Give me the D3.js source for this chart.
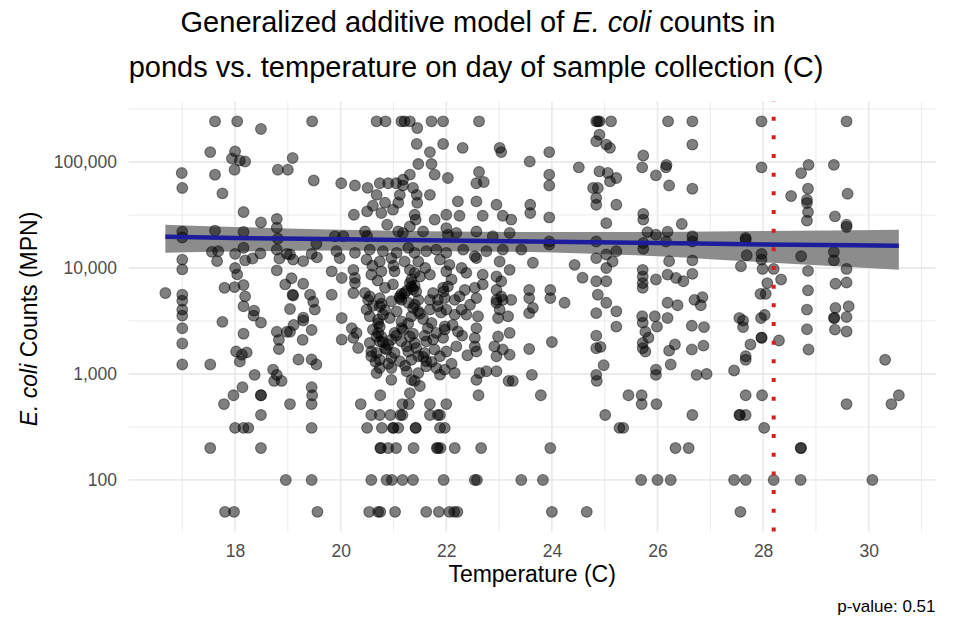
<!DOCTYPE html>
<html>
<head>
<meta charset="utf-8">
<script src="https://cdn.jsdelivr.net/npm/d3@7"></script>
<style>
  body { margin: 0; background: #fff; }
  svg text { font-family: "Liberation Sans", Arial, sans-serif; }
</style>
</head>
<body>
<svg id="chart" width="957" height="620"></svg>
<script>
// samples: [temperature (C), E. coli MPN]
const samples = [
  // 17-20 C, upper half
  [17.62,241960],[18.04,241960],[19.46,241960],[20.68,241960],[20.85,241960],[18.49,205000],
  [17.53,124000],[18.00,126000],[17.94,108000],[18.09,103000],[18.19,101000],[19.09,109000],
  [16.99,78700],[17.00,56900],[17.62,75900],[17.99,84600],[18.81,84600],[19.00,84600],
  [17.76,50600],[19.49,67000],[20.01,63000],[20.27,60000],[20.51,57000],[18.16,33700],
  [18.49,26900],[18.79,29000],[18.79,24000],[17.00,22000],[17.00,19400],[17.62,22500],
  [18.16,21900],[18.81,18900],[19.54,16900],[17.56,14200],[17.68,14400],[17.66,11600],
  [18.00,13600],[18.16,15500],[18.19,11800],[18.33,12300],[18.48,13700],[18.79,14900],
  [18.84,12300],[18.98,13600],[19.04,13400],[19.10,12000],[19.29,11600],[19.45,13600],
  [19.55,12600],[17.00,12000],[17.00,9700],[18.00,10000],[18.04,8700],[18.79,9500],
  [19.07,8000],[19.29,7100],[18.95,7000],[19.10,5500],[16.68,5800],[17.00,5600],
  [17.00,4900],[17.00,4050],[17.80,6500],[17.99,6600],[18.16,6900],[18.19,5400],
  [18.16,4350],[18.36,3960],[19.09,5600],[19.42,5600],[19.48,4800],[19.51,4050],
  // 17-20 C, lower half
  [17.00,3550],[17.00,2700],[17.00,1940],[17.00,1230],[17.76,3100],[17.53,1230],
  [18.35,3550],[18.49,3050],[18.16,2400],[18.02,1630],[18.13,1520],[18.22,1600],
  [18.09,1310],[18.79,2500],[18.83,2100],[18.83,1720],[18.98,2500],[19.04,2500],
  [19.11,2900],[19.29,3400],[19.28,2100],[19.45,2600],[19.04,4100],[19.29,3200],
  [19.20,1370],[19.45,1370],[19.54,1230],[18.72,1100],[18.79,980],[18.74,860],
  [18.88,860],[18.37,980],[18.14,750],[17.97,630],[17.79,520],[18.49,630],
  [18.49,630],[18.49,410],[19.04,520],[19.45,750],[19.46,630],[19.45,520],
  [18.00,310],[18.16,310],[18.25,310],[17.53,200],[18.49,200],[19.45,310],
  [18.96,100],[19.45,100],[17.81,50],[17.98,50],[19.56,50],[20.38,520],
  // 20-25 C, low counts
  [20.75,630],[21.17,520],[21.29,520],[21.69,520],[22.00,520],[20.58,410],
  [20.74,410],[20.94,410],[21.13,410],[21.17,410],[21.69,410],[21.84,410],
  [21.88,410],[20.50,310],[20.78,310],[20.99,310],[21.09,310],[21.42,310],
  [21.88,310],[21.97,310],[21.00,310],[21.42,310],[20.75,200],[20.76,200],
  [20.90,200],[21.05,200],[21.38,200],[21.82,200],[21.84,200],[21.89,200],
  [22.16,200],[22.66,200],[23.97,200],[20.58,100],[20.87,100],[20.97,100],
  [21.17,100],[21.37,100],[21.95,100],[22.54,100],[22.58,100],[23.42,100],
  [23.83,100],[20.54,50],[20.71,50],[20.75,50],[21.03,50],[21.62,50],
  [21.86,50],[22.06,50],[22.15,50],[22.21,50],[24.00,50],[24.66,50],
  [22.61,630],[23.18,860],[23.26,860],[23.62,980],[23.79,630],[24.84,980],
  [24.85,860],[24.98,1210],[25.01,410],[25.28,310],[24.00,2000],[23.57,1720],
  [23.57,3750],[23.64,4200],[24.24,4700],[24.84,3750],[24.84,2300],[24.84,1750],
  [24.92,1800],[25.22,3900],[25.22,2800],
  // 20-23.5 C, dense cluster
  [20.61,38700],[20.84,41300],[21.09,41300],[21.45,41300],[22.22,42500],[22.57,42500],[22.95,39500],
  [20.25,31800],[20.50,34200],[20.77,33000],[20.99,35500],[21.40,31800],[21.42,28600],
  [21.78,28600],[22.00,31800],[22.25,31100],[22.69,31100],[23.07,31100],[23.23,28600],
  [19.89,19900],[20.05,19900],[20.46,22100],[20.50,19900],[20.88,25600],[21.09,22100],
  [21.18,21400],[21.31,24700],[21.56,22100],[22.00,23800],[22.03,20600],[22.19,21400],
  [22.57,22100],[22.88,19900],[23.20,21400],
  [19.92,14400],[20.27,13900],[20.55,14900],[20.80,14400],[21.06,13900],[21.28,15500],
  [21.40,13900],[21.62,14400],[21.81,14900],[22.00,13900],[22.32,14900],[22.54,12900],
  [22.76,14400],[23.07,14900],[23.42,14900],
  [19.98,12400],[20.49,12000],[20.74,11500],[20.96,12400],[21.21,11500],[21.47,11500],
  [21.88,12000],[22.06,10700],[22.29,10000],[22.57,12400],[23.01,11500],[23.20,9600],
  [19.83,9300],[20.24,9600],[20.27,8050],[20.58,8650],[20.77,9300],[21.02,9300],
  [21.31,9600],[21.34,7800],[21.50,8300],[21.69,8650],[22.00,9300],[22.38,9000],
  [22.69,8650],[22.95,8300],[23.04,7500],
  [20.02,8050],[20.27,7200],[20.46,5800],[20.55,5400],[20.84,6500],[21.12,5200],
  [21.21,5800],[21.34,6700],[21.43,6000],[21.75,5800],[21.94,6500],[22.03,6700],
  [22.25,5400],[22.54,6500],[22.69,7000],[22.95,6200],[23.04,5400],
  [19.83,5600],[20.24,5800],[20.52,5000],[20.74,5200],[20.96,4850],[21.15,5000],
  [21.28,4700],[21.47,5000],[21.69,5000],[21.84,5000],[21.97,5200],[22.16,5000],
  [22.29,4050],[22.57,5200],[22.95,5000],[23.07,5000],[23.23,5000],
  [20.49,4050],[20.74,4350],[20.80,3630],[21.06,3900],[21.37,4200],[21.47,3900],
  [21.69,4050],[21.84,4350],[22.00,4050],[22.38,3630],[22.60,3500],[22.95,4700],[23.01,4050],
  [20.02,3370],[20.55,3500],[20.71,3250],[20.93,3370],[21.15,3130],[21.34,3500],
  [21.72,3030],[21.97,2810],[22.16,3630],[22.57,2710],[22.98,3370],[23.17,3500],
  [20.21,2710],[20.30,2440],[20.61,2620],[20.71,2440],[20.77,2260],[21.02,2440],
  [21.15,2710],[21.31,2260],[21.65,2710],[21.81,2440],[21.97,2620],
  [20.02,2110],[20.24,2190],[20.55,1960],[20.74,2030],[20.96,2110],[21.15,2030],
  [21.25,1820],[21.40,1960],[21.62,2030],[21.75,2110],[21.94,2190],[22.22,2520],
  [22.54,2190],[22.98,2260],[23.20,2440],
  [20.33,1760],[20.58,1630],[20.68,1580],[20.87,1700],[21.02,1580],[21.28,1630],
  [21.43,1760],[21.59,1580],[21.78,1700],[22.00,1630],[22.19,1820],[22.54,1820],
  [22.91,1820],[23.07,1700],
  [20.58,1470],[20.74,1360],[20.96,1420],[21.12,1320],[21.34,1360],[21.47,1470],
  [21.62,1320],[21.88,1470],[22.57,1630],[22.95,1470],[23.20,1520],
  [20.74,1140],[20.68,1020],[20.96,1140],[21.25,1060],[21.34,880],[21.47,1020],
  [21.62,1180],[21.81,1140],[21.88,985],[22.16,1020],[22.63,1020],[22.76,1060],
  [22.95,1060],[22.57,880],[20.96,880],[21.40,860],[21.50,770],[21.31,660],
  // dense cluster, overlapping points
  [21.12,5400],[21.15,5700],[21.37,6300],[21.40,6800],[21.31,7200],[21.25,6100],
  [20.74,2800],[20.71,3000],[20.68,2250],[20.80,2000],[20.84,1750],[20.90,1900],
  [20.77,4600],[20.84,4000],[20.61,4400],[21.40,4500],[21.50,3700],[21.56,3300],
  [21.28,3000],[21.18,2600],[21.05,2300],[21.37,2400],[21.59,2300],[20.66,1300],
  [20.90,1250],[21.22,1200],[21.56,1450],[21.72,1300],[21.97,1100],[22.10,1250],
  [20.99,7000],[20.70,7600],[20.60,10500],[21.00,10500],[21.40,9000],[21.60,10000],
  [21.95,6000],[22.10,7800],[22.35,6200],[22.45,4500],[21.90,3800],[22.12,2900],
  [22.30,2300],[22.40,1500],
  // 21-25.5 C, upper half
  [21.15,241960],[21.21,241960],[21.31,241960],[21.72,241960],[21.94,241960],[22.62,241960],
  [24.84,241960],[24.87,241960],[24.90,241960],[25.12,241960],[21.45,209000],[21.44,148000],
  [21.94,148000],[22.31,136000],[21.69,124000],[23.01,136000],[23.04,124000],[23.95,124000],
  [23.58,101000],[24.51,89000],[23.95,76000],[23.95,60000],[21.47,95700],[21.72,95700],
  [21.78,76000],[22.03,70600],[21.31,76000],[21.18,68000],[21.05,63000],[20.74,63000],
  [20.90,63000],[21.18,60000],[21.37,57000],[21.12,49000],[21.44,49000],[21.69,49000],
  [20.68,49000],[22.62,80500],[22.57,63000],[22.71,64700],[23.59,39500],[23.59,33000],
  [23.95,30000],[24.84,45800],[24.87,56900],[24.78,56900],[24.90,81500],[25.06,78800],
  [25.10,65600],[25.22,70600],[24.84,157000],[24.90,181000],[25.03,146000],[25.10,136000],
  [24.84,39500],[25.03,26500],[25.22,39500],[24.84,17800],[25.03,13400],[25.15,11500],
  [24.43,10700],[24.58,8100],[23.64,11200],[23.95,16600],[23.95,17800],[23.57,6200],
  [23.57,5200],[23.97,6200],[23.97,5200],[24.84,7500],[25.03,7500],[24.87,5600],
  [25.03,4700],[24.84,12400],[25.03,10000],[25.22,14400],
  // 25.5-30.6 C, upper half
  [26.20,241960],[26.66,241960],[27.97,241960],[29.58,241960],[26.66,146000],[25.73,115000],
  [25.71,89000],[26.17,94000],[26.16,89000],[25.97,74800],[26.22,60000],[26.66,56000],
  [27.97,89000],[28.86,94000],[28.72,78600],[29.34,94000],[28.85,56000],[28.53,47700],
  [28.83,44000],[28.83,41000],[28.85,33700],[28.83,28000],[29.60,50200],[29.36,30700],
  [29.58,25600],[29.58,24400],[25.73,32400],[25.73,28600],[26.46,26000],[26.19,22000],
  [25.81,21800],[25.97,20600],[26.66,19900],[26.66,17800],[27.67,19200],[27.67,18500],
  [25.73,17200],[25.73,15200],[26.16,17800],[26.22,11600],[26.66,11800],[27.69,13200],
  [27.97,13600],[27.97,12000],[28.72,12900],[29.34,14200],[29.34,11800],[27.58,10400],
  [27.99,9800],[28.20,9800],[28.34,7800],[28.85,9400],[29.58,9800],[27.95,5700],
  [28.05,5700],[28.08,7200],[28.85,6150],[29.37,7100],[29.58,7300],[25.72,9600],
  [25.72,8300],[25.72,7200],[25.72,6500],[25.97,7800],[26.19,8650],[26.35,8050],
  [26.49,7500],[26.66,8800],[26.19,4700],[26.38,4450],[26.70,5000],[26.85,5300],
  [26.82,4450],[28.83,4050],[29.37,4200],[29.62,4350],
  // 25.5-30.6 C, lower half
  [25.71,3500],[25.72,3050],[25.95,3500],[25.99,2800],[25.77,2500],[25.83,2200],
  [25.72,1960],[25.72,1750],[25.77,1630],[26.19,3370],[26.22,1660],[26.33,1900],
  [26.25,1230],[25.97,1100],[25.97,980],[26.65,2850],[26.88,2770],[26.65,1700],
  [26.87,1850],[26.74,980],[26.93,1000],[25.35,310],[25.45,630],[25.70,630],
  [25.70,520],[25.98,520],[26.66,410],[26.34,200],[26.59,200],[25.69,100],
  [26.00,100],[26.25,100],[27.55,3370],[27.62,3200],[27.62,2770],[27.96,3370],
  [28.03,3600],[27.97,2200],[27.97,2200],[27.76,1900],[28.30,2070],[27.67,1470],
  [27.67,1360],[27.45,1080],[27.67,630],[27.98,630],[27.55,410],[27.56,410],
  [27.67,410],[28.02,310],[28.71,200],[28.72,200],[27.45,100],[27.67,100],
  [28.20,100],[28.71,100],[30.07,100],[27.57,50],[28.83,2640],[28.86,1700],
  [29.34,3370],[29.35,3370],[29.36,2620],[29.58,3450],[29.58,2520],[29.58,520],
  [30.31,1360],[30.57,630],[30.43,520]
];

// GAM fit with confidence band
const fitTemp  = [16.68, 18, 20, 22, 24, 26, 28, 30.57];
const fitMean  = [19700, 19200, 18700, 18200, 17700, 17200, 16700, 16200];
const fitUpper = [25600, 24400, 23000, 22100, 21800, 21900, 22300, 22900];
const fitLower = [13900, 14300, 14600, 14400, 14000, 12900, 11300, 9600];

const markerTemp = 28.2;

const xTicks = [18, 20, 22, 24, 26, 28, 30];
const xMinor = [17, 19, 21, 23, 25, 27, 29, 31];
const yTicks = [100, 1000, 10000, 100000];
const yMinor = [316.2, 3162, 31623, 316228];

const width = 957, height = 620;
const panel = {left: 128.7, right: 935.5, top: 101.8, bottom: 531.4};

const svg = d3.select("#chart");

const tExt = d3.extent(samples, d => d[0]);
const cExt = d3.extent(samples, d => Math.log10(d[1]));
const tPad = (tExt[1] - tExt[0]) * 0.05;
const cPad = (cExt[1] - cExt[0]) * 0.05;

const x = d3.scaleLinear()
    .domain([tExt[0] - tPad, tExt[1] + tPad])
    .range([panel.left, panel.right]);

const y = d3.scaleLog()
    .domain([Math.pow(10, cExt[0] - cPad), Math.pow(10, cExt[1] + cPad)])
    .range([panel.bottom, panel.top]);

/* grid */
const grid = svg.append("g").attr("stroke", "#ebebeb").attr("fill", "none");

grid.selectAll("line.xminor").data(xMinor.filter(d => d < x.domain()[1])).enter()
    .append("line").attr("class", "xminor")
    .attr("x1", d => x(d)).attr("x2", d => x(d))
    .attr("y1", panel.top).attr("y2", panel.bottom)
    .attr("stroke-width", 1);

grid.selectAll("line.xmajor").data(xTicks).enter()
    .append("line").attr("class", "xmajor")
    .attr("x1", d => x(d)).attr("x2", d => x(d))
    .attr("y1", panel.top).attr("y2", panel.bottom)
    .attr("stroke-width", 1.8);

grid.selectAll("line.yminor").data(yMinor.filter(d => d < y.domain()[1])).enter()
    .append("line").attr("class", "yminor")
    .attr("y1", d => y(d)).attr("y2", d => y(d))
    .attr("x1", panel.left).attr("x2", panel.right)
    .attr("stroke-width", 1);

grid.selectAll("line.ymajor").data(yTicks).enter()
    .append("line").attr("class", "ymajor")
    .attr("y1", d => y(d)).attr("y2", d => y(d))
    .attr("x1", panel.left).attr("x2", panel.right)
    .attr("stroke-width", 1.8);

/* confidence band */
const idx = d3.range(fitTemp.length);
const band = d3.area()
    .x(i => x(fitTemp[i]))
    .y0(i => y(fitLower[i]))
    .y1(i => y(fitUpper[i]))
    .curve(d3.curveMonotoneX);

svg.append("path")
    .attr("d", band(idx))
    .attr("fill", "#8c8c8c");

/* points */
svg.append("g")
  .selectAll("circle")
  .data(samples)
  .enter()
  .append("circle")
    .attr("cx", d => x(d[0]))
    .attr("cy", d => y(d[1]))
    .attr("r", 5.4)
    .attr("fill", "#000")
    .attr("fill-opacity", 0.5)
    .attr("stroke", "#000")
    .attr("stroke-opacity", 0.45)
    .attr("stroke-width", 1.1);

/* fitted line */
const fitLine = d3.line()
    .x(i => x(fitTemp[i]))
    .y(i => y(fitMean[i]))
    .curve(d3.curveMonotoneX);

svg.append("path")
    .attr("d", fitLine(idx))
    .attr("fill", "none")
    .attr("stroke", "#1c1c9c")
    .attr("stroke-width", 4.5);

/* dotted vertical marker, drawn bottom to top like ggplot */
svg.append("line")
    .attr("x1", x(markerTemp)).attr("x2", x(markerTemp))
    .attr("y1", panel.bottom).attr("y2", panel.top)
    .attr("stroke", "#dd1c1c")
    .attr("stroke-width", 4)
    .attr("stroke-dasharray", "4 14.67");

/* axes */
const xAxis = d3.axisBottom(x)
    .tickValues(xTicks)
    .tickSize(0)
    .tickPadding(13)
    .tickFormat(d3.format("d"));

svg.append("g")
    .attr("transform", "translate(0," + panel.bottom + ")")
    .call(xAxis)
    .call(g => g.select(".domain").remove())
    .attr("font-size", null).attr("font-family", null)
    .selectAll("text")
    .attr("font-size", 17.5)
    .attr("fill", "#4d4d4d");

const yAxis = d3.axisLeft(y)
    .tickValues(yTicks)
    .tickSize(0)
    .tickPadding(11.7)
    .tickFormat(d3.format(","));

svg.append("g")
    .attr("transform", "translate(" + panel.left + ",0)")
    .call(yAxis)
    .call(g => g.select(".domain").remove())
    .attr("font-size", null).attr("font-family", null)
    .selectAll("text")
    .attr("font-size", 17.5)
    .attr("fill", "#4d4d4d");

/* titles */
const title = svg.append("text")
    .attr("text-anchor", "middle")
    .attr("font-size", 29)
    .attr("fill", "#000");

const t1 = title.append("tspan").attr("x", 478).attr("y", 32);
t1.append("tspan").text("Generalized additive model of ");
t1.append("tspan").attr("font-style", "italic").text("E. coli");
t1.append("tspan").text(" counts in");

title.append("tspan").attr("x", 476).attr("y", 77)
    .text("ponds vs. temperature on day of sample collection (C)");

svg.append("text")
    .attr("x", (panel.left + panel.right) / 2)
    .attr("y", 582)
    .attr("text-anchor", "middle")
    .attr("font-size", 23)
    .text("Temperature (C)");

const yTitle = svg.append("text")
    .attr("transform", "translate(37," + 319 + ") rotate(-90)")
    .attr("text-anchor", "middle")
    .attr("font-size", 23);
yTitle.append("tspan").attr("font-style", "italic").text("E. coli");
yTitle.append("tspan").text(" Counts (MPN)");

svg.append("text")
    .attr("x", panel.right)
    .attr("y", 612)
    .attr("text-anchor", "end")
    .attr("font-size", 17)
    .text("p-value: 0.51");
</script>
</body>
</html>
